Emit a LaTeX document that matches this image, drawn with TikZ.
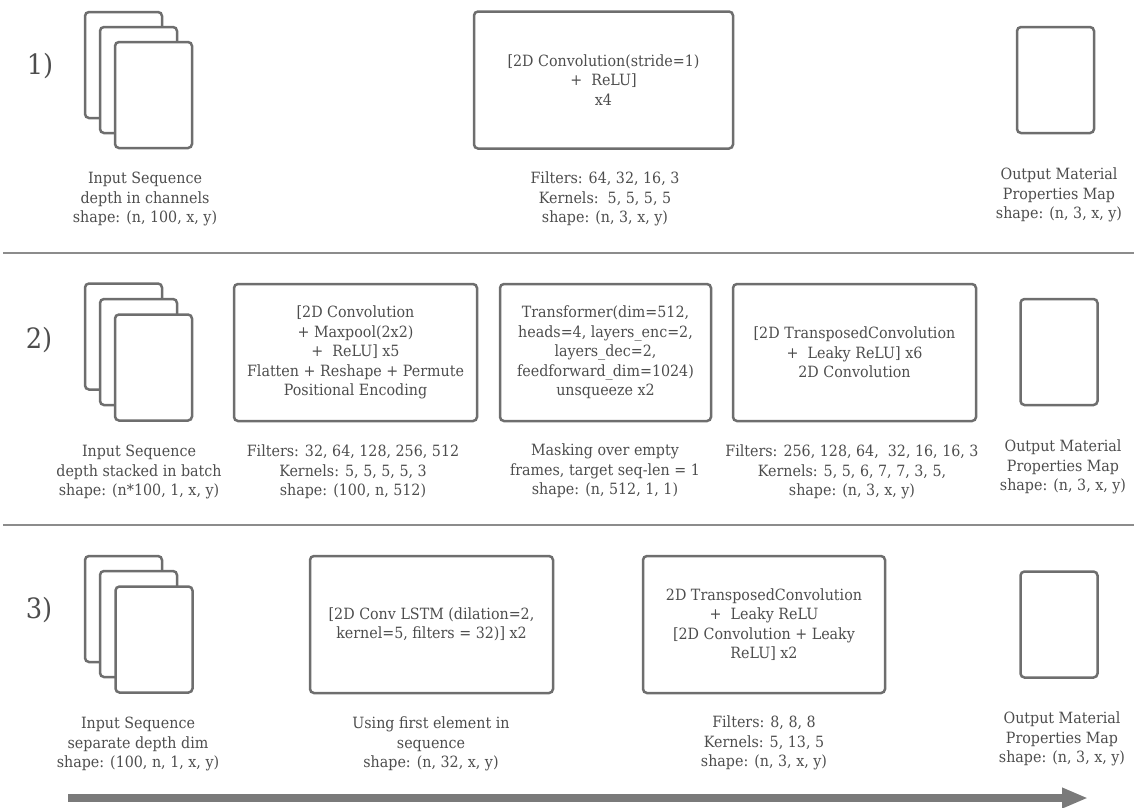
\documentclass[tikz,border=0pt]{standalone}
\usepackage{fontspec}
\setmainfont{DejaVu Serif}[FakeStretch=0.92]
\usetikzlibrary{arrows.meta}
\definecolor{inkgray}{HTML}{4D4D4D}
\definecolor{boxgray}{HTML}{6E6E6E}
\definecolor{rulegray}{HTML}{8C8C8C}
\definecolor{arrowgray}{HTML}{7A7A7A}

\begin{document}
\begin{tikzpicture}[x=1pt,y=-1pt,>={Triangle[length=26pt,width=19pt]}]
            \tikzstyle{every node} = [text=inkgray,font=\fontsize{15.5}{19.5}\selectfont,align=center,inner sep=0pt];
            \tikzstyle{page} = [draw=boxgray,fill=white,line width=2.5pt,rounded corners=4pt,minimum width=77pt,minimum height=106pt];
            \tikzstyle{layer} = [draw=boxgray,line width=2.5pt,rounded corners=4pt,minimum height=137pt];
            \tikzstyle{num} = [font=\fontsize{28}{34}\selectfont];
            \useasboundingbox (0,0) rectangle (1134,807);
            % row 1
            \node[num] (n1) at (40,66) {1)};
            \node[page] (in1a) at (123.5,65) {};
            \node[page] (in1b) at (138.5,80) {};
            \node[page] (in1c) at (153.5,95) {};
            \node (lin1) at (145,199) {Input Sequence\\depth in channels\\shape: (n, 100, x, y)};
            \node[layer,minimum width=259pt] (conv1) at (603.5,80) {[2D Convolution(stride=1)\\+\ \ ReLU]\\x4};
            \node (lconv1) at (605,199) {Filters: 64, 32, 16, 3\\Kernels:\ \ 5, 5, 5, 5\\shape: (n, 3, x, y)};
            \node[page] (out1) at (1055.5,80) {};
            \node (lout1) at (1059,195) {Output Material\\Properties Map\\shape: (n, 3, x, y)};
            \coordinate (s1a) at (3,253);
            \coordinate (s1b) at (1134,253);
            \draw[rulegray,line width=2pt] (s1a) -- (s1b);
            % row 2
            \node[num] (n2) at (39,340) {2)};
            \node[page] (in2a) at (123.5,336.5) {};
            \node[page] (in2b) at (138.5,352) {};
            \node[page] (in2c) at (153.5,367.5) {};
            \node (lin2) at (139,472) {Input Sequence\\depth stacked in batch\\shape: (n*100, 1, x, y)};
            \node[layer,minimum width=243pt] (enc2) at (355.5,352.5) {[2D Convolution\\+ Maxpool(2x2)\\+\ \ ReLU] x5\\Flatten + Reshape + Permute\\Positional Encoding};
            \node (lenc2) at (353,472) {Filters: 32, 64, 128, 256, 512\\Kernels: 5, 5, 5, 5, 3\\shape: (100, n, 512)};
            \node[layer,minimum width=211pt] (trf2) at (605.5,352.5) {Transformer(dim=512,\\heads=4, layers\_enc=2,\\layers\_dec=2,\\feedforward\_dim=1024)\\unsqueeze x2};
            \node (ltrf2) at (605,471) {Masking over empty\\frames, target seq-len = 1\\shape: (n, 512, 1, 1)};
            \node[layer,minimum width=243pt] (dec2) at (854.5,352.5) {[2D TransposedConvolution\\+\ \ Leaky ReLU] x6\\2D Convolution};
            \node (ldec2) at (852,472) {Filters: 256, 128, 64,\ \ 32, 16, 16, 3\\Kernels: 5, 5, 6, 7, 7, 3, 5,\\shape: (n, 3, x, y)};
            \node[page] (out2) at (1059,352) {};
            \node (lout2) at (1063,467) {Output Material\\Properties Map\\shape: (n, 3, x, y)};
            \coordinate (s2a) at (3,525);
            \coordinate (s2b) at (1134,525);
            \draw[rulegray,line width=2pt] (s2a) -- (s2b);
            % row 3
            \node[num] (n3) at (39,610) {3)};
            \node[page] (in3a) at (123.5,609) {};
            \node[page] (in3b) at (138.5,624) {};
            \node[page] (in3c) at (154,639.5) {};
            \node (lin3) at (138,744) {Input Sequence\\separate depth dim\\shape: (100, n, 1, x, y)};
            \node[layer,minimum width=243pt] (lstm3) at (431.5,624.5) {[2D Conv LSTM (dilation=2,\\kernel=5, filters = 32)] x2};
            \node (llstm3) at (431,744) {Using first element in\\sequence\\shape: (n, 32, x, y)};
            \node[layer,minimum width=242pt] (dec3) at (764,624.5) {2D TransposedConvolution\\+\ \ Leaky ReLU\\{}[2D Convolution + Leaky\\ReLU] x2};
            \node (ldec3) at (764,743) {Filters: 8, 8, 8\\Kernels: 5, 13, 5\\shape: (n, 3, x, y)};
            \node[page] (out3) at (1059,624.5) {};
            \node (lout3) at (1062,739) {Output Material\\Properties Map\\shape: (n, 3, x, y)};
            % time arrow
            \coordinate (t0) at (68,798);
            \coordinate (t1) at (1088,798);
            \draw[->,arrowgray,line width=7.5pt] (t0) -- (t1);
        \end{tikzpicture}
\end{document}
